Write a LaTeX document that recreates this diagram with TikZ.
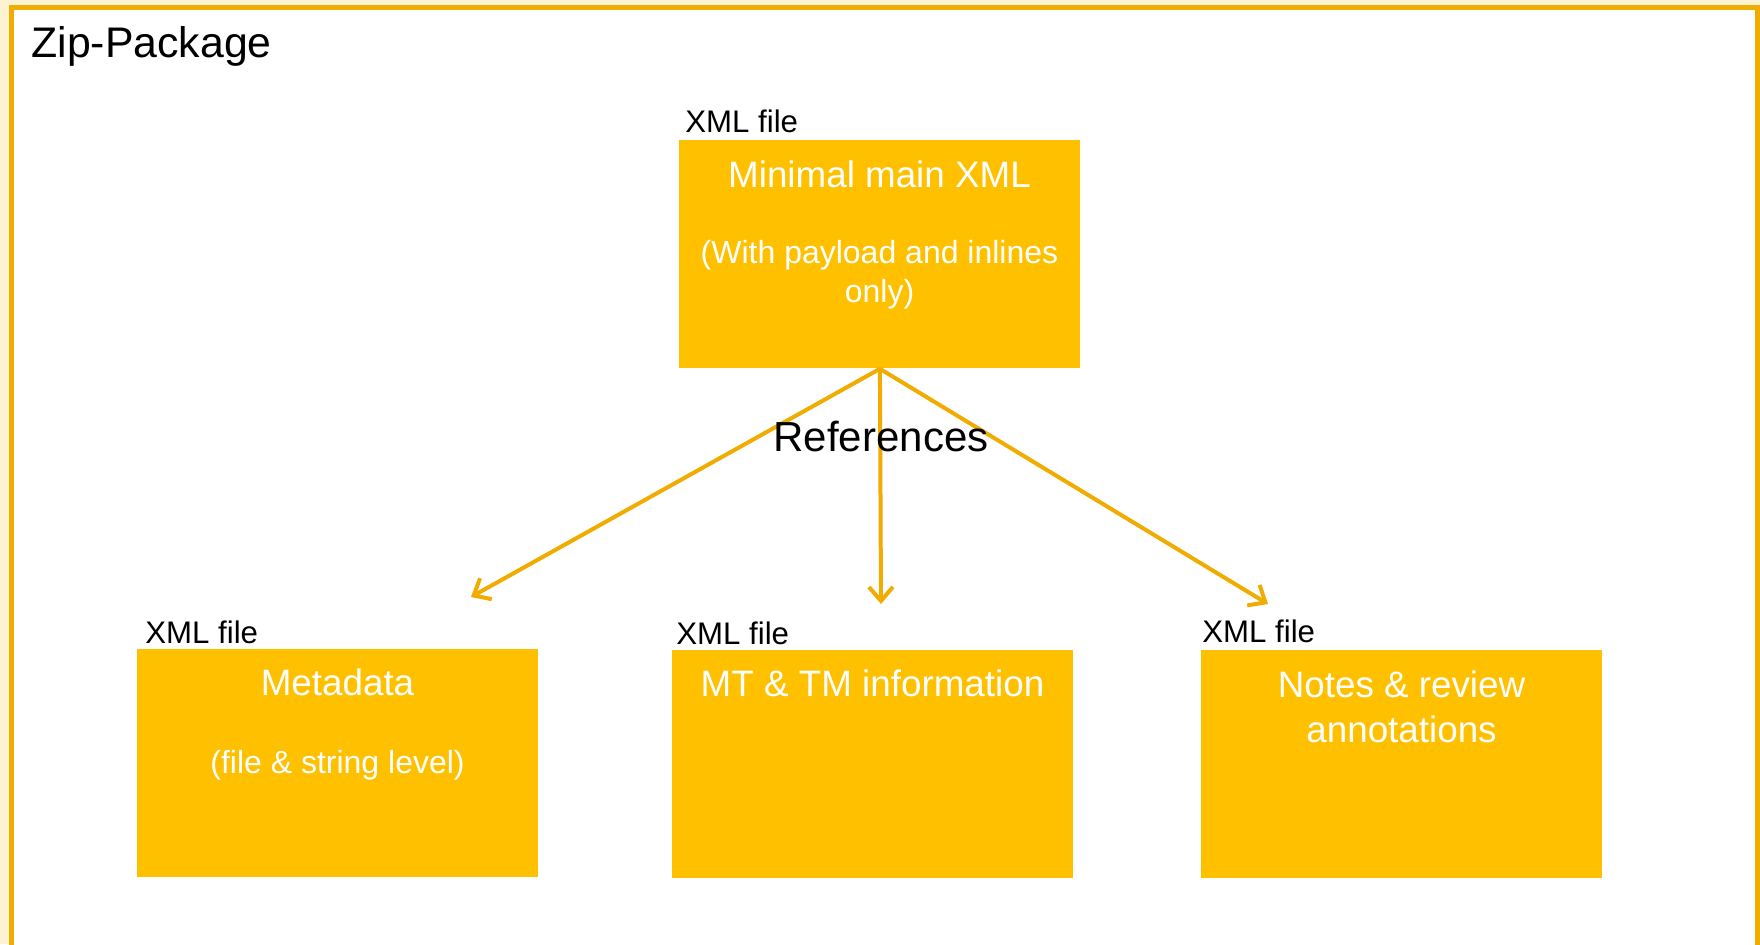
\documentclass[tikz,border=0pt]{standalone}
\usepackage{fontspec}
\setmainfont{Liberation Sans}
\usetikzlibrary{arrows.meta}
\definecolor{boxfill}{HTML}{FFC000}
\definecolor{lineor}{HTML}{F0AC00}
\definecolor{outside}{HTML}{FDF3D2}
\begin{document}
\begin{tikzpicture}[x=0.5pt,y=-0.5pt,
  box/.style={fill=boxfill, draw=none, minimum width=200.5pt, minimum height=114pt, anchor=north west, inner sep=0pt},
  lbl/.style={anchor=base west, inner sep=0pt, font=\fontsize{15.6}{18}\selectfont, text=black},
  intitle/.style={anchor=base, inner sep=0pt, font=\fontsize{18.4}{22}\selectfont, text=white},
  insub/.style={anchor=base, inner sep=0pt, font=\fontsize{16}{19}\selectfont, text=white},
  refarrow/.style={draw=lineor, line width=2pt, -{Straight Barb[length=7pt,width=12pt]}}]
\useasboundingbox (0,0) rectangle (1760,944);
\fill[outside] (0,0) rectangle (1760,944);
\fill[white] (11,7) rectangle (1757,944);
\draw[lineor, line width=2.5pt] (11,946) -- (11,7) -- (1757,7) -- (1757,946);

\node[anchor=base west, inner sep=0pt, font=\fontsize{21.4}{25}\selectfont] (zip) at (31,57) {Zip-Package};

% boxes
\node[box] (main) at (679,140) {};
\node[box] (meta) at (137,649) {};
\node[box] (mt) at (672,650) {};
\node[box] (notes) at (1201,650) {};

% XML file labels
\node[lbl] (lmain) at (685,132) {XML file};
\node[lbl] (lmeta) at (145,643) {XML file};
\node[lbl] (lmt) at (676,644) {XML file};
\node[lbl] (lnotes) at (1202,642) {XML file};

% texts in boxes
\node[intitle] (t1) at (879.5,187) {Minimal main XML};
\node[insub] (t1a) at (879.5,263) {(With payload and inlines};
\node[insub] (t1b) at (879.5,302) {only)};
\node[intitle] (t2) at (337.5,695) {Metadata};
\node[insub] (t2a) at (337.5,773) {(file \& string level)};
\node[intitle] (t3) at (872.5,696) {MT \& TM information};
\node[intitle] (t4) at (1401.5,697) {Notes \& review};
\node[intitle] (t4a) at (1401.5,742) {annotations};

% arrows
\coordinate (aL) at (471,597);
\coordinate (aM) at (881,604);
\coordinate (aR) at (1268,604);
\draw[refarrow] (main.south) -- (aL);
\draw[refarrow] (main.south) -- (aM);
\draw[refarrow] (main.south) -- (aR);

\node[anchor=base, inner sep=0pt, font=\fontsize{21}{25}\selectfont] (refs) at (881,451) {References};
\end{tikzpicture}
\end{document}
